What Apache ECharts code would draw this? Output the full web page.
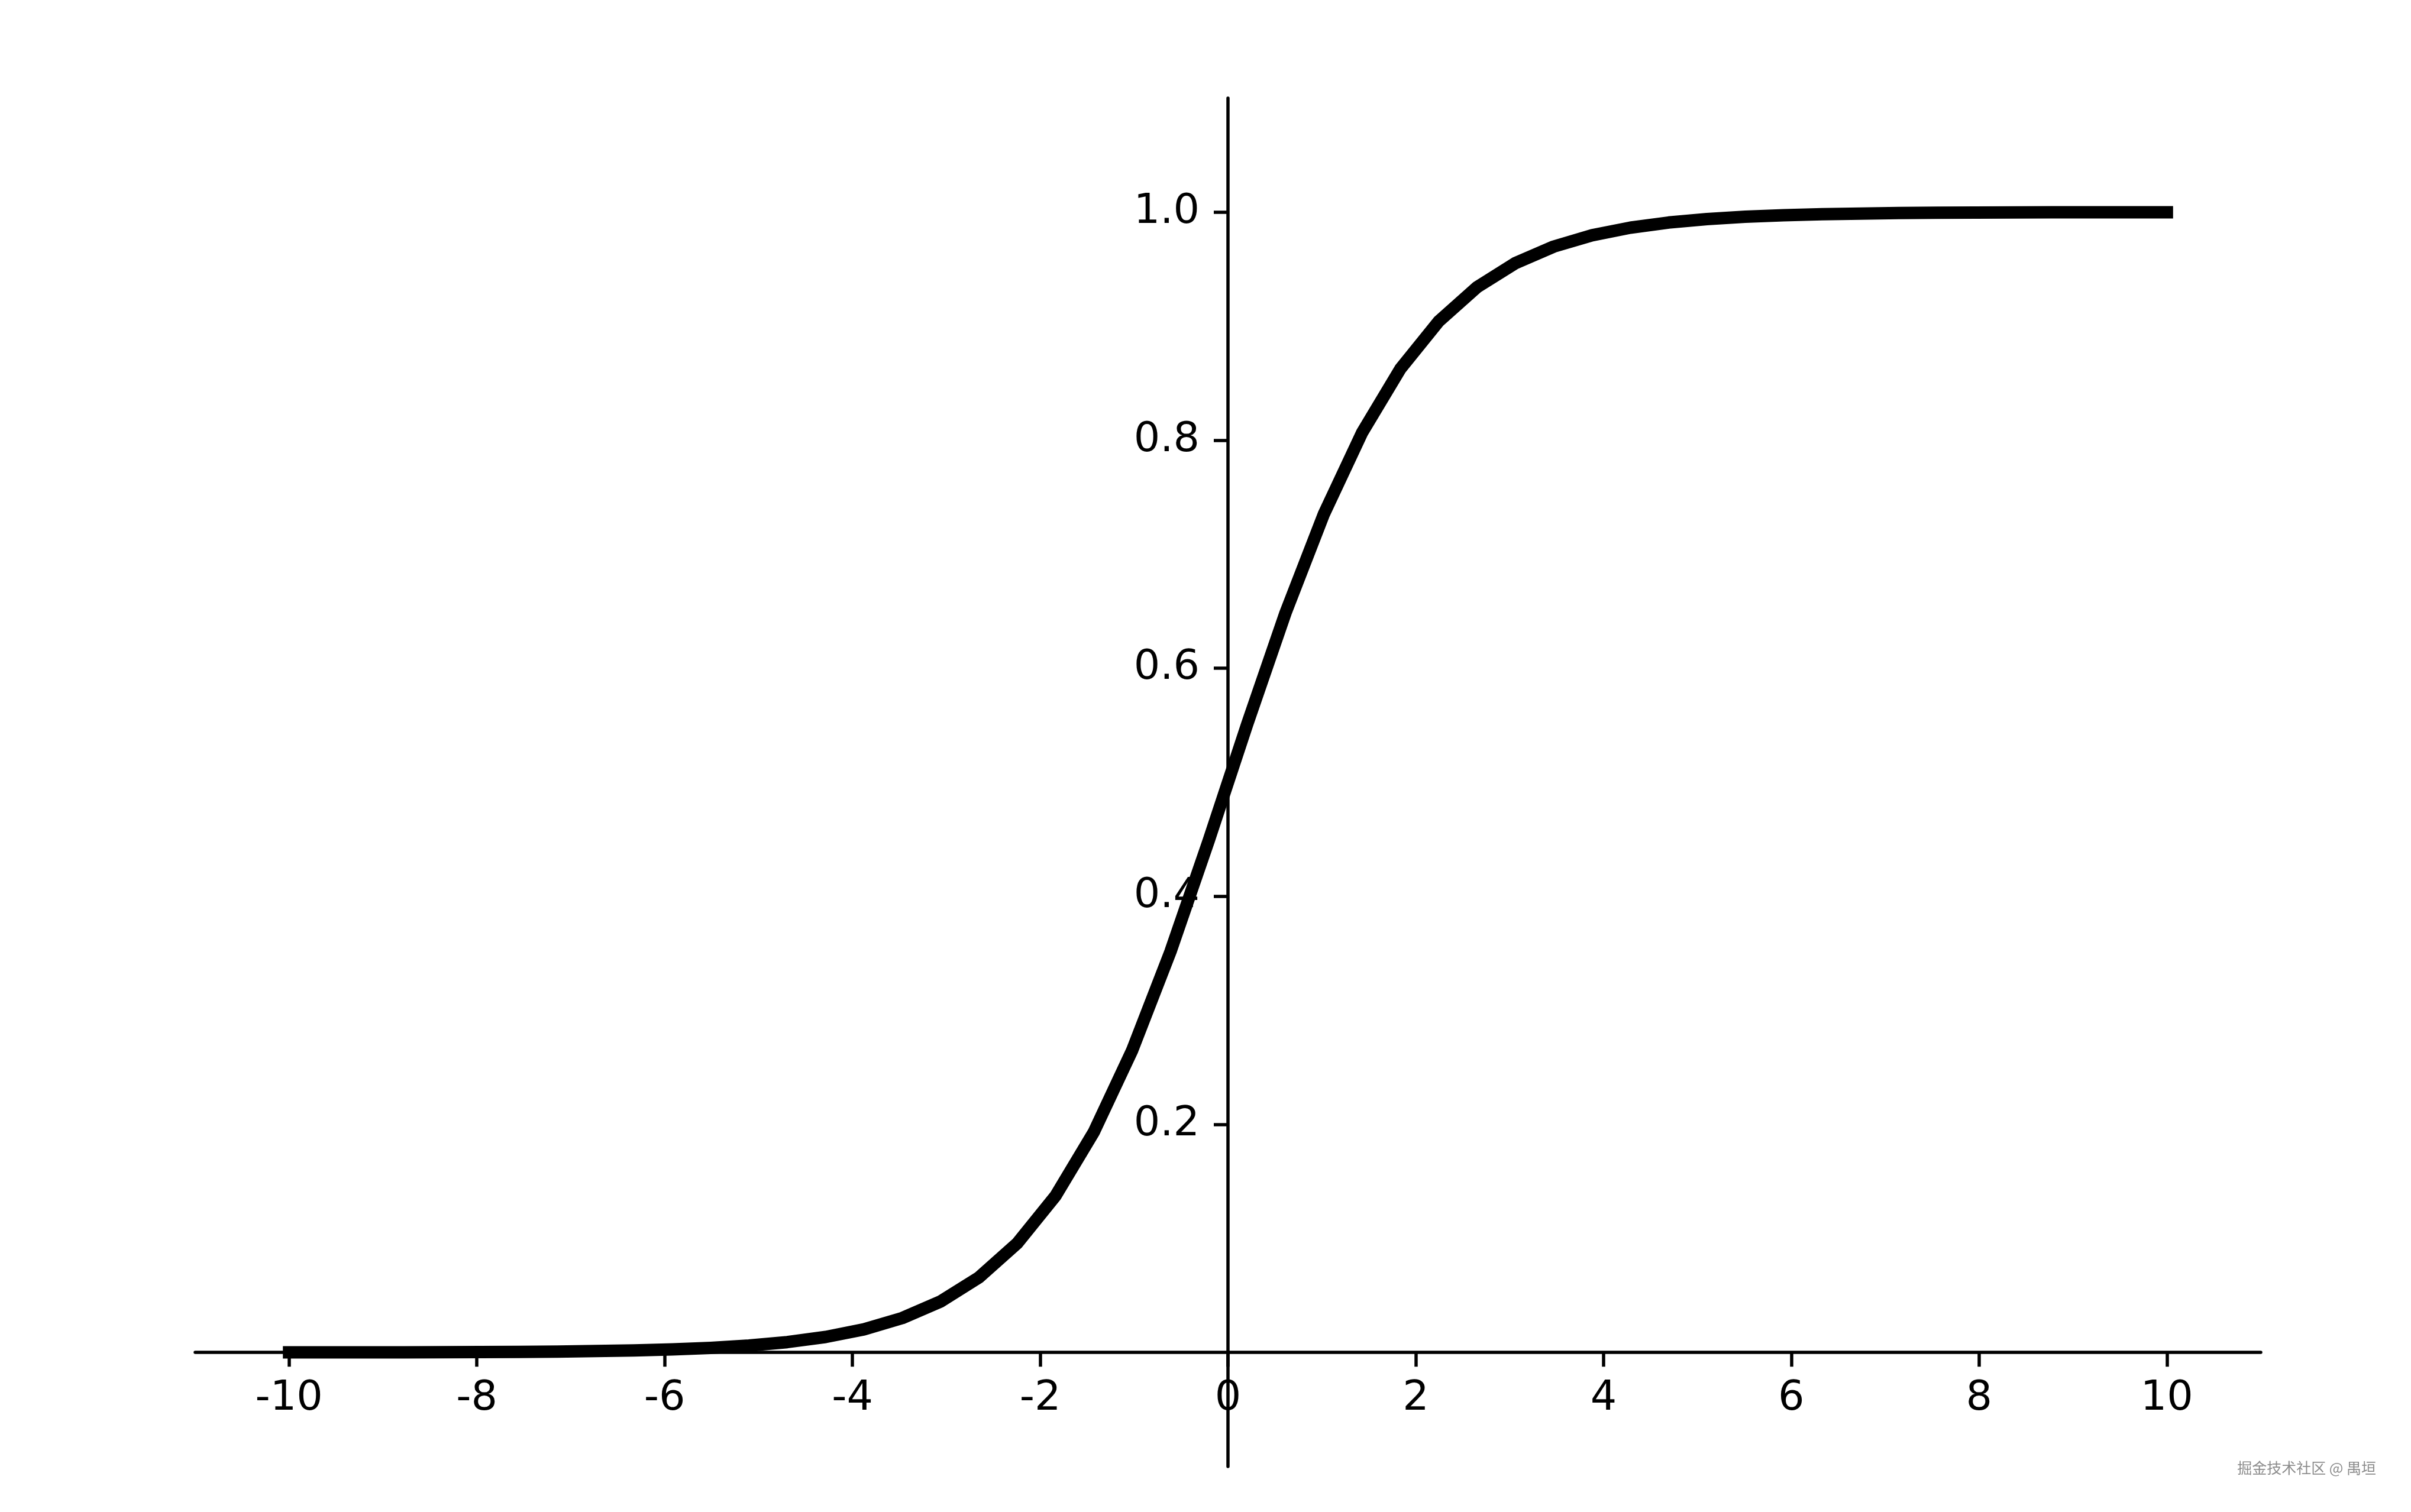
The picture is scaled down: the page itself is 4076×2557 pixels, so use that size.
<!DOCTYPE html>
<html>
<head>
<meta charset="utf-8">
<script src="https://cdn.jsdelivr.net/npm/echarts@6/dist/echarts.min.js"></script>
<style>
html,body{margin:0;padding:0;background:#fff;}
#chart{width:4076px;height:2557px;}
</style>
</head>
<body>
<div id="chart"></div>
<script>
// x sample positions (50 points from -10 to 10)
const xValues = [-10, -9.5918, -9.1837, -8.7755, -8.3673, -7.9592, -7.5510, -7.1429, -6.7347, -6.3265,
  -5.9184, -5.5102, -5.1020, -4.6939, -4.2857, -3.8776, -3.4694, -3.0612, -2.6531, -2.2449,
  -1.8367, -1.4286, -1.0204, -0.6122, -0.2041, 0.2041, 0.6122, 1.0204, 1.4286, 1.8367,
  2.2449, 2.6531, 3.0612, 3.4694, 3.8776, 4.2857, 4.6939, 5.1020, 5.5102, 5.9184,
  6.3265, 6.7347, 7.1429, 7.5510, 7.9592, 8.3673, 8.7755, 9.1837, 9.5918, 10];
// curve values (sigmoid shape)
const yValues = [0.00005, 0.00007, 0.0001, 0.00015, 0.00023, 0.00035, 0.00053, 0.00079, 0.00119, 0.00179,
  0.00268, 0.00402, 0.00604, 0.00906, 0.01356, 0.02026, 0.03016, 0.04468, 0.06572, 0.09567,
  0.13727, 0.19332, 0.26493, 0.35156, 0.44915, 0.55085, 0.64844, 0.73507, 0.80668, 0.86273,
  0.90433, 0.93428, 0.95532, 0.96984, 0.97974, 0.98644, 0.99094, 0.99396, 0.99598, 0.99732,
  0.99821, 0.99881, 0.99921, 0.99947, 0.99965, 0.99977, 0.99985, 0.9999, 0.99993, 0.99995];
const xTicks = [-10, -8, -6, -4, -2, 0, 2, 4, 6, 8, 10];
const yTicks = [0.2, 0.4, 0.6, 0.8, 1.0];
const watermark = '掘金技术社区 @ 禺垣';

const seriesData = xValues.map((x, i) => [x, yValues[i]]);

const gridLeft = 330, gridRight = 254, gridTop = 166, gridBottom = 77;
const W = 4076, H = 2557;
const xMin = -11, xMax = 11, yMin = -0.1, yMax = 1.1;
const plotW = W - gridLeft - gridRight, plotH = H - gridTop - gridBottom;
// move spines to the data origin (like centred matplotlib spines)
const xAxisOffset = -plotH * (0 - yMin) / (yMax - yMin);
const yAxisOffset = -plotW * (0 - xMin) / (xMax - xMin);

const chart = echarts.init(document.getElementById('chart'), null, {renderer: 'canvas', width: W, height: H});
const font = "'DejaVu Sans', sans-serif";
chart.setOption({
  animation: false,
  backgroundColor: '#ffffff',
  grid: {left: gridLeft, right: gridRight, top: gridTop, bottom: gridBottom, containLabel: false, outerBoundsMode: 'none'},
  xAxis: {
    type: 'value', min: xMin, max: xMax, position: 'bottom', offset: xAxisOffset,
    axisLine: {show: true, onZero: false, lineStyle: {color: '#000', width: 5.5}},
    axisTick: {show: true, customValues: xTicks, length: 24, lineStyle: {color: '#000', width: 5.5}},
    axisLabel: {show: true, customValues: xTicks, margin: 44, fontSize: 70, fontFamily: font, color: '#000',
      hideOverlap: false, formatter: v => String(v)},
    splitLine: {show: false}
  },
  yAxis: {
    type: 'value', min: yMin, max: yMax, position: 'left', offset: yAxisOffset,
    axisLine: {show: true, onZero: false, lineStyle: {color: '#000', width: 5.5}},
    axisTick: {show: true, customValues: yTicks, length: 24, lineStyle: {color: '#000', width: 5.5}},
    axisLabel: {show: true, customValues: yTicks, margin: 48, fontSize: 70, fontFamily: font, color: '#000',
      hideOverlap: false, formatter: v => Number(v).toFixed(1)},
    splitLine: {show: false}
  },
  graphic: [{
    type: 'text', right: 59, top: 2470,
    style: {text: watermark, fontSize: 25, fontFamily: "'Noto Sans CJK SC', sans-serif", fill: '#8c8c8c',
      shadowColor: 'rgba(255,255,255,0.9)', shadowOffsetX: 1, shadowOffsetY: 1}
  }],
  series: [{
    type: 'line', data: seriesData, showSymbol: false, smooth: false, clip: false, z: 1,
    lineStyle: {color: '#000', width: 21, cap: 'square', join: 'round'}
  }]
});
</script>
</body>
</html>
